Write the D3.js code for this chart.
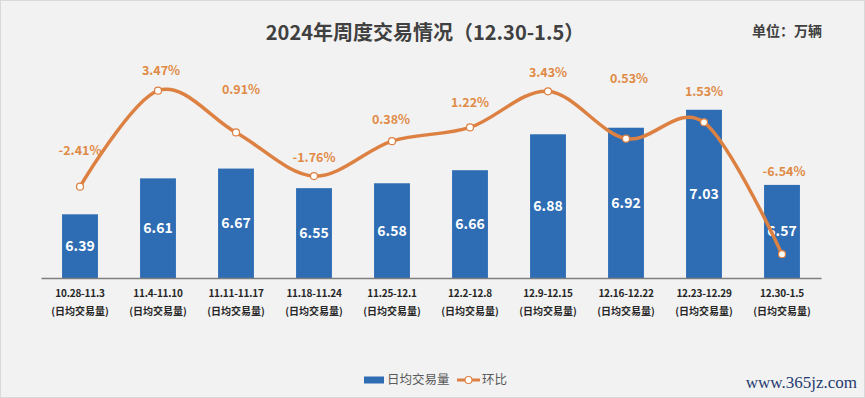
<!DOCTYPE html>
<html><head><meta charset="utf-8">
<script src="https://cdn.jsdelivr.net/npm/d3@7"></script>
<style>html,body{margin:0;padding:0;background:#f2f2f2;}svg{display:block;}</style>
</head><body>
<svg id="chart" width="865" height="398"></svg>
<script>
const categories = ["10.28-11.3","11.4-11.10","11.11-11.17","11.18-11.24","11.25-12.1","12.2-12.8","12.9-12.15","12.16-12.22","12.23-12.29","12.30-1.5"];
const subLabel = "(日均交易量)";
const volumes = [6.39, 6.61, 6.67, 6.55, 6.58, 6.66, 6.88, 6.92, 7.03, 6.57];
const changes = [-2.41, 3.47, 0.91, -1.76, 0.38, 1.22, 3.43, 0.53, 1.53, -6.54];
const titleText = "2024年周度交易情况（12.30-1.5）";
const unitText = "单位：万辆";
const legendNames = ["日均交易量", "环比"];
const watermark = "www.365jz.com";
// label placement offsets (layout only)
const pctLabelDx = [0, 3, 5, 0, -1, 0, 0, 3, 0, 2];
const pctLabelDy = [-37, -21, -43, -19, -22, -25, -19, -61, -31, -83];

const W = 865, H = 398;
const svg = d3.select("#chart");
const font = "'Noto Sans CJK SC','Noto Sans',sans-serif";
const blue = "#2e6db4", orange = "#dd8143", orangeText = "#e08a45";

svg.append("rect").attr("x",0.5).attr("y",0.5).attr("width",W-1).attr("height",H-1)
  .attr("fill","#f2f2f2").attr("stroke","#d9d9d9");

const x = d3.scaleBand().domain(categories).range([41, 821]).paddingInner(0.54).paddingOuter(0.27);
const y = d3.scaleLinear().domain([6, 7.2]).range([278, 82]);
const y2 = d3.scaleLinear().domain([-8, 4]).range([278, 82]);
const cx = c => x(c) + x.bandwidth()/2;

// title
svg.append("text").attr("x", 425).attr("y", 40).attr("text-anchor","middle")
  .attr("font-family", font).attr("font-size", 20).attr("font-weight","bold").attr("fill","#404040")
  .text(titleText);
svg.append("text").attr("x", 787).attr("y", 36).attr("text-anchor","middle")
  .attr("font-family", font).attr("font-size", 14).attr("font-weight","bold").attr("fill","#404040")
  .text(unitText);

// bars
svg.append("g").selectAll("rect").data(volumes).join("rect")
  .attr("x", (d,i) => x(categories[i])).attr("width", x.bandwidth())
  .attr("y", d => y(d)).attr("height", d => y(6) - y(d))
  .attr("fill", blue);

// axis
const xAxis = d3.axisBottom(x).tickSize(0).tickFormat("");
const ax = svg.append("g").attr("transform","translate(0,278)").call(xAxis);
ax.select(".domain").attr("stroke","#7f7f7f").attr("stroke-width",1.5);
const tl = svg.append("g");
categories.forEach(c => {
  const t = tl.append("text").attr("x", cx(c)).attr("text-anchor","middle")
    .attr("font-family", font).attr("font-size", 10).attr("font-weight","bold").attr("fill","#262626");
  t.append("tspan").attr("x", cx(c)).attr("y", 297).attr("letter-spacing", -0.2).text(c);
  t.append("tspan").attr("x", cx(c)).attr("y", 315).text(subLabel);
});

// bar value labels
svg.append("g").selectAll("text").data(volumes).join("text")
  .attr("x", (d,i) => cx(categories[i])).attr("y", d => (y(d) + y(6))/2 + 5)
  .attr("text-anchor","middle").attr("font-family", font).attr("font-size", 14)
  .attr("font-weight","bold").attr("fill","#ffffff").text(d => d.toFixed(2));

// line
const line = d3.line().x((d,i) => cx(categories[i])).y(d => y2(d)).curve(d3.curveCatmullRom.alpha(0));
svg.append("path").datum(changes).attr("d", line).attr("fill","none")
  .attr("stroke", orange).attr("stroke-width", 3.5).attr("stroke-linecap","round");
svg.append("g").selectAll("circle").data(changes).join("circle")
  .attr("cx", (d,i) => cx(categories[i])).attr("cy", d => y2(d)).attr("r", 3.5)
  .attr("fill","#ffffff").attr("stroke", orange).attr("stroke-width", 1.2);

// pct labels
svg.append("g").selectAll("text").data(changes).join("text")
  .attr("x", (d,i) => cx(categories[i]) + pctLabelDx[i])
  .attr("y", (d,i) => y2(d) + pctLabelDy[i] + 5)
  .attr("text-anchor","middle").attr("font-family", font).attr("font-size", 12.5)
  .attr("font-weight","bold").attr("fill", orangeText).text(d => d.toFixed(2) + "%");

// legend
const lg = svg.append("g");
lg.append("rect").attr("x", 364).attr("y", 376.5).attr("width", 20).attr("height", 7).attr("fill", blue);
lg.append("text").attr("x", 387).attr("y", 384).attr("font-family", font).attr("font-size", 12.5)
  .attr("fill","#595959").text(legendNames[0]);
lg.append("line").attr("x1", 457).attr("x2", 480).attr("y1", 380).attr("y2", 380)
  .attr("stroke", orange).attr("stroke-width", 3);
lg.append("circle").attr("cx", 468.5).attr("cy", 380).attr("r", 3.5).attr("fill","#fff")
  .attr("stroke", orange).attr("stroke-width", 1.2);
lg.append("text").attr("x", 482).attr("y", 384).attr("font-family", font).attr("font-size", 12.5)
  .attr("fill","#595959").text(legendNames[1]);

// watermark
svg.append("text").attr("x", 857).attr("y", 388).attr("text-anchor","end")
  .attr("font-family","'Liberation Serif','DejaVu Serif',serif").attr("font-size", 17)
  .attr("fill","#1f3b70").text(watermark);
</script>
</body></html>
